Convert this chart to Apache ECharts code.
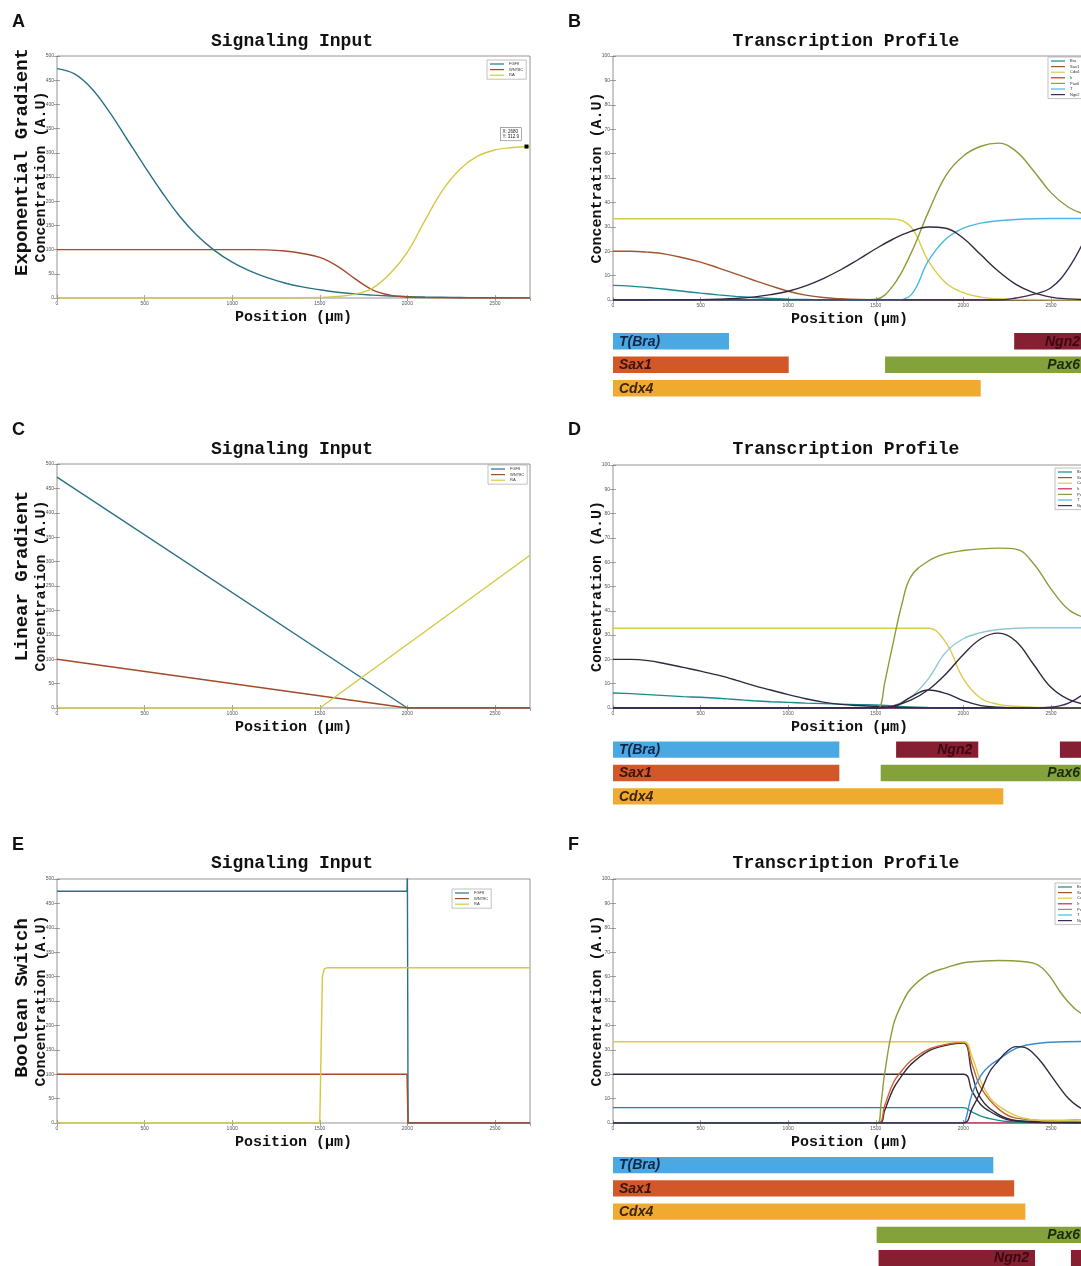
<!DOCTYPE html>
<html><head><meta charset="utf-8">
<script src="https://cdn.jsdelivr.net/npm/echarts@6/dist/echarts.min.js"></script>
<style>html,body{margin:0;padding:0;background:#fff}#c{width:1081px;height:1266px}</style>
</head><body><div id="c"></div>
<script>
// ---------------- DATA ----------------
const X100 = [0,100,200,300,400,500,600,700,800,900,1000,1100,1200,1300,1400,1500,1600,1700,1800,1900,2000,2100,2200,2300,2400,2500,2600,2700];
const XEND = [0,2700];
const ZERO2 = [0,0];
const signalNames = ['FGF8','WNT8C','RA'];
const geneLegend = ['Bra','Sax1','Cdx4','Ir','Pax6','T','Ngn2'];

// Panel A : exponential gradient
const A_FGF8 = [474,463,432,384,328,272,218,169,129,98,74,56,42,31,23,17,12,8.5,6,4,2.8,2,1.4,1,0.7,0.5,0.3,0.2];
const A_WNT8C = [100,100,100,100,100,100,100,100,100,100,100,100,99.5,97,92,84,66,40,17,6,2,0.8,0.3,0,0,0,0,0];
const A_RA = [0,0,0,0,0,0,0,0,0,0,0,0,0,0,0.5,1,3,8,20,50,95,160,222,266,293,306,311,313];
const A_tip = [2680, 312.9];

// Panel B : transcription profile (exponential)
const B_Bra = [6,5.7,5.1,4.4,3.6,2.8,2.1,1.5,1.0,0.6,0.35,0.2,0.1,0.05,0,0,0,0,0,0,0,0,0,0,0,0,0,0];
const B_Sax1 = [20,20,19.6,18.8,17.3,15.5,13.2,10.7,8.2,5.8,3.6,2.0,1.0,0.5,0.2,0.1,0,0,0,0,0,0,0,0,0,0,0,0];
const B_Cdx4 = [33.3,33.3,33.3,33.3,33.3,33.3,33.3,33.3,33.3,33.3,33.3,33.3,33.3,33.3,33.3,33.3,33.2,30,16,7,3,1.2,0.5,0.3,0.2,0.1,0.1,0.1];
const B_Pax6 = [0,0,0,0,0,0,0,0,0,0,0,0,0,0,0,0.3,6,19,36,51,59,63,64.3,61,53,44,38,35];
const B_T = [0,0,0,0,0,0,0,0,0,0,0,0,0,0,0,0,0,2,16,25,29.5,31.5,32.5,33,33.3,33.4,33.4,33.4];
const B_Irx = [0,0,0.02,0.05,0.1,0.15,0.3,0.6,1.2,2.2,3.6,5.8,8.8,12.4,16.6,21,25,28.1,29.9,29.4,25.3,18.5,11.8,6.4,3.0,1.2,0.45,0.12];
const B_Ngn2 = [0,0,0,0,0,0,0,0,0,0,0,0,0,0,0,0,0,0,0,0,0,0,0,0.8,2.3,5,13,26];

// Panel C : linear gradient
const C_FGF8_x = [0,2000,2700], C_FGF8 = [473,0,0];
const C_WNT8C_x = [0,2000,2700], C_WNT8C = [100,0,0];
const C_RA_x = [0,1500,2700], C_RA = [0,0,313];

// Panel D : transcription profile (linear)
const D_Bra = [6.2,5.9,5.5,5.1,4.7,4.4,4.0,3.5,3.0,2.6,2.3,2.0,1.8,1.6,1.4,1.3,0.8,0.4,0.2,0.1,0,0,0,0,0,0,0,0];
const D_Sax1 = [20,20,19.5,18.2,16.7,15.2,13.5,11.5,9.3,7.4,5.5,3.8,2.4,1.5,1.0,0.7,0.3,0.1,0,0,0,0,0,0,0,0,0,0];
const D_Cdx4 = [32.8,32.8,32.8,32.8,32.8,32.8,32.8,32.8,32.8,32.8,32.8,32.8,32.8,32.8,32.8,32.8,32.8,32.8,32.8,27,12,4,1.5,0.7,0.3,0.2,0.1,0.1];
const D_Pax6_x = [0,1500,1525,1550,1600,1650,1700,1800,1900,2000,2100,2200,2300,2400,2500,2600,2700];
const D_Pax6 = [0,0,0.5,10,27,43,54,60.5,63.5,64.8,65.5,65.8,65.4,59.5,49,40.5,37];
const D_T = [0,0,0,0,0,0,0,0,0,0,0,0,0,0,0,0,1,4.5,12,23,28.5,31,32.3,32.8,33,33,33,33];
const D_Irx = [0,0,0,0,0,0,0,0,0,0,0,0,0,0,0,0,0.8,3.2,7.5,14,22,28.5,30.8,27.5,18,8.5,3.5,1.5];
const D_Bump = [0,0,0,0,0,0,0,0,0,0,0,0,0,0,0,0,0.5,4.5,7.4,6,3,1,0.3,0,0,0,0,0];
const D_Ngn2 = [0,0,0,0,0,0,0,0,0,0,0,0,0,0,0,0,0,0,0,0,0,0,0,0,0,0.3,2,6.5];

// Panel E : boolean switch
const E_FGF8_x = [0,1998,2000,2004,2700], E_FGF8 = [475,475,520,0,0];
const E_WNT8C_x = [0,1998,2004,2700], E_WNT8C = [100,100,0,0];
const E_RA_x = [0,1500,1515,1525,1540,2700], E_RA = [0,0,300,316,318,318];

// Panel F : transcription profile (boolean)
const F_Cdx4_x = [0,2000,2050,2100,2150,2200,2300,2400,2500,2600,2700];
const F_Cdx4 = [33.3,33.3,27,17,10.5,7,3,1.3,0.8,1,1.5];
const F_Sax1_x = [0,1510,1550,1600,1650,1700,1800,1900,2000,2050,2100,2200,2300,2500,2700];
const F_Sax1 = [0,0,7,16.5,21.5,25.5,30.2,32.2,33.1,24,14.5,5.8,2,1,1.5];
const F_Ir2_x = [0,1520,1550,1600,1650,1700,1800,1900,2000,2050,2100,2200,2300,2500,2700];
const F_Ir2 = [0,0,5,14,19.5,24,29.5,31.8,32.8,20,10,3.5,1,0.5,0.3];
const F_Dk_x = [0,2000,2050,2100,2150,2200,2250,2300,2400,2700];
const F_Dk = [20,20,13,7.5,4.8,2.8,1.4,0.8,0.3,0];
const F_Bra_x = [0,2000,2050,2100,2150,2200,2250,2300,2400,2700];
const F_Bra = [6.3,6.3,4.5,2.8,1.8,1.1,0.6,0.4,0.2,0];
const F_T_x = [0,2000,2010,2050,2100,2150,2200,2300,2400,2500,2700];
const F_T = [0,0,0.5,12,19.5,23.5,26,30.6,32.4,33.1,33.4];
const F_Ngn2_x = [0,2000,2050,2100,2150,2200,2250,2300,2350,2400,2450,2500,2550,2600,2650,2700];
const F_Ngn2 = [0,0,6,13,21,25.5,29.4,31.3,31,28.5,24.5,19.5,14.5,10,7,5];
const F_Pax6_x = [0,1510,1530,1550,1600,1650,1700,1800,1900,2000,2100,2200,2300,2400,2450,2500,2550,2600,2650,2700];
const F_Pax6 = [0,0,8,20,40,49,55,61,63.6,65.7,66.3,66.6,66.4,65.5,63.5,59.5,54,49.5,46,44];

// Expression bars: label, start, end, row
const B_barLabel = ['T(Bra)','Sax1','Cdx4','Ngn2','Pax6'];
const B_barGene  = ['T(Bra)','Sax1','Cdx4','Ngn2','Pax6'];
const B_barStart = [0,0,0,2290,1553];
const B_barEnd   = [662,1003,2099,2700,2700];
const B_barRow   = [0,1,2,0,1];

const D_barLabel = ['T(Bra)','Sax1','Cdx4','Ngn2','','Pax6'];
const D_barGene  = ['T(Bra)','Sax1','Cdx4','Ngn2','Ngn2','Pax6'];
const D_barStart = [0,0,0,1616,2551,1528];
const D_barEnd   = [1292,1292,2228,2085,2700,2700];
const D_barRow   = [0,1,2,0,0,1];

const F_barLabel = ['T(Bra)','Sax1','Cdx4','Pax6','Ngn2',''];
const F_barGene  = ['T(Bra)','Sax1','Cdx4','Pax6','Ngn2','Ngn2'];
const F_barStart = [0,0,0,1505,1516,2614];
const F_barEnd   = [2171,2290,2354,2700,2409,2700];
const F_barRow   = [0,1,2,3,4,4];

// ---------------- STYLE / LAYOUT ----------------
const COL = {FGF8:'#2b7186', WNT8C:'#a24a2a', RA:'#d3c940', Bra:'#178a8c', Sax1:'#a0552c', Cdx4:'#d8cc48',
  Ir:'#c82848', Pax6:'#8c9c3c', T:'#4ab8e4', Ngn2:'#3a2a58', Irx:'#33283f', dark:'#2e2a3c', orange:'#d0602a'};
const BARCOL = {'T(Bra)':'#4aa9e2','Sax1':'#d2582a','Cdx4':'#f0aa30','Pax6':'#84a23c','Ngn2':'#861f32'};
const BARTXT = {'T(Bra)':'#14254a','Sax1':'#3a1208','Cdx4':'#3a2508','Pax6':'#1c2a0c','Ngn2':'#3a0810'};
const MONO = '"Liberation Mono","Courier New",monospace';
const SANS = '"Liberation Sans",Arial,sans-serif';

const plotGrids = [
  {left:57, top:56, width:473, height:242},
  {left:613, top:56, width:473, height:244},
  {left:57, top:464, width:473, height:244},
  {left:613, top:465, width:473, height:243},
  {left:57, top:879, width:473, height:244},
  {left:613, top:879, width:473, height:244}
];
const barGrids = [
  {left:613, top:329.5, width:473, height:70.5},
  {left:613, top:738, width:473, height:70},
  {left:613, top:1153.5, width:473, height:116.25}
];
const yMaxes = [500,100,500,100,500,100];
const yInts = [50,10,50,10,50,10];

const grid = [];
plotGrids.forEach(g => grid.push(Object.assign({show:true, borderColor:'#7a7a7a', borderWidth:0.8, backgroundColor:'#fff', containLabel:false, outerBoundsMode:'none'}, g)));
barGrids.forEach(g => grid.push(Object.assign({show:false, containLabel:false, outerBoundsMode:'none'}, g)));

const plain = v => String(v);
const xAxis = [], yAxis = [];
const tickStyle = {show:true, inside:true, length:3, lineStyle:{color:'#666', width:0.6}};
plotGrids.forEach((g, i) => {
  xAxis.push({type:'value', gridIndex:i, min:0, max:2700, interval:500, position:'bottom',
    axisLine:{show:false}, axisTick:tickStyle, splitLine:{show:false},
    axisLabel:{fontSize:5, color:'#555', margin:3, showMaxLabel:false, fontFamily:SANS, formatter:plain},
    name:'Position (\u00b5m)', nameLocation:'middle', nameGap:12,
    nameTextStyle:{fontFamily:MONO, fontWeight:'bold', fontSize:15, color:'#111'}});
  xAxis.push({type:'value', gridIndex:i, min:0, max:2700, interval:500, position:'top',
    axisLine:{show:false}, axisTick:tickStyle, splitLine:{show:false}, axisLabel:{show:false}});
  yAxis.push({type:'value', gridIndex:i, min:0, max:yMaxes[i], interval:yInts[i], position:'left',
    axisLine:{show:false}, axisTick:tickStyle, splitLine:{show:false},
    axisLabel:{fontSize:5, color:'#555', margin:3, fontFamily:SANS, formatter:plain},
    name:'Concentration (A.U)', nameLocation:'middle', nameGap:8, nameMoveOverlap:false,
    nameTextStyle:{fontFamily:MONO, fontWeight:'bold', fontSize:15, color:'#111'}});
  yAxis.push({type:'value', gridIndex:i, min:0, max:yMaxes[i], interval:yInts[i], position:'right',
    axisLine:{show:false}, axisTick:tickStyle, splitLine:{show:false}, axisLabel:{show:false}});
});
const barRowsCount = [3,3,5];
barGrids.forEach((g, k) => {
  xAxis.push({type:'value', gridIndex:6+k, min:0, max:2700, show:false});
  yAxis.push({type:'value', gridIndex:6+k, min:-0.5, max:barRowsCount[k]-0.5, inverse:true, show:false});
});

function pts(xs, ys){ return xs.map((x, i) => [x, ys[i]]); }
function line(p, name, xs, ys, color, opt){
  return Object.assign({type:'line', name:name, xAxisIndex:2*p, yAxisIndex:2*p, data:pts(xs, ys),
    symbol:'none', showSymbol:false, smooth:0.4, clip:true, silent:true,
    lineStyle:{width:1.4, color:color}, itemStyle:{color:color}}, opt || {});
}
const straight = {smooth:false};

function barSeries(k, labels, genes, starts, ends, rows){
  return {type:'custom', xAxisIndex:12+k, yAxisIndex:12+k, silent:true, clip:false,
    data: starts.map((s, i) => [s, ends[i], rows[i]]),
    renderItem: function(params, api){
      const i = params.dataIndex;
      const a = api.coord([api.value(0), api.value(2)]);
      const b = api.coord([api.value(1), api.value(2)]);
      const h = api.size([0, 1])[1] * 0.7;
      const gene = genes[i];
      const children = [{type:'rect', shape:{x:a[0], y:a[1]-h/2, width:b[0]-a[0], height:h},
        style:{fill:BARCOL[gene]}}];
      if (labels[i]) {
        const leftAlign = (gene === 'T(Bra)' || gene === 'Sax1' || gene === 'Cdx4');
        children.push({type:'text', x: leftAlign ? a[0]+6 : b[0]-6, y:a[1]+0.5,
          style:{text:labels[i], font:'italic bold 14px ' + SANS, fill:BARTXT[gene],
            align: leftAlign ? 'left' : 'right', verticalAlign:'middle'}});
      }
      return {type:'group', children:children};
    }};
}

const series = [
  // A
  line(0, 'FGF8', X100, A_FGF8, COL.FGF8),
  line(0, 'WNT8C', X100, A_WNT8C, COL.WNT8C),
  line(0, 'RA', X100, A_RA, COL.RA, {markPoint:{symbol:'rect', symbolSize:4, silent:true,
    itemStyle:{color:'#000'}, data:[{coord:A_tip}],
    label:{show:true, formatter:'X: ' + A_tip[0] + '\nY: ' + A_tip[1], position:[-24,-17],
      fontSize:4.5, lineHeight:5.5, color:'#222', backgroundColor:'#fff', borderColor:'#555', borderWidth:0.5, padding:[1,2]}}}),
  // B
  line(1, 'Ir', XEND, ZERO2, COL.Ir),
  line(1, 'Bra', X100, B_Bra, COL.Bra),
  line(1, 'Sax1', X100, B_Sax1, COL.Sax1),
  line(1, 'Cdx4', X100, B_Cdx4, COL.Cdx4),
  line(1, 'Pax6', X100, B_Pax6, COL.Pax6),
  line(1, 'T', X100, B_T, COL.T),
  line(1, 'Irx', X100, B_Irx, COL.Irx),
  line(1, 'Ngn2', X100, B_Ngn2, COL.Ngn2),
  // C
  line(2, 'FGF8', C_FGF8_x, C_FGF8, COL.FGF8, straight),
  line(2, 'WNT8C', C_WNT8C_x, C_WNT8C, COL.WNT8C, straight),
  line(2, 'RA', C_RA_x, C_RA, COL.RA, straight),
  // D
  line(3, 'Ir', XEND, ZERO2, COL.Ir),
  line(3, 'Bra', X100, D_Bra, COL.Bra),
  line(3, 'Sax1', X100, D_Sax1, COL.dark),
  line(3, 'Cdx4', X100, D_Cdx4, COL.Cdx4),
  line(3, 'Pax6', D_Pax6_x, D_Pax6, COL.Pax6),
  line(3, 'T', X100, D_T, '#8fc6d8'),
  line(3, 'Irx', X100, D_Irx, COL.Irx),
  line(3, 'Bump', X100, D_Bump, COL.dark),
  line(3, 'Ngn2', X100, D_Ngn2, COL.Ngn2),
  // E
  line(4, 'FGF8', E_FGF8_x, E_FGF8, COL.FGF8, straight),
  line(4, 'WNT8C', E_WNT8C_x, E_WNT8C, COL.WNT8C, straight),
  line(4, 'RA', E_RA_x, E_RA, COL.RA, straight),
  // F
  line(5, 'Ir', XEND, ZERO2, COL.Ir),
  line(5, 'Bra', F_Bra_x, F_Bra, COL.Bra),
  line(5, 'Sax1dk', F_Dk_x, F_Dk, COL.dark),
  line(5, 'Ir2', F_Ir2_x, F_Ir2, COL.dark),
  line(5, 'Sax1', F_Sax1_x, F_Sax1, COL.orange),
  line(5, 'Cdx4', F_Cdx4_x, F_Cdx4, COL.Cdx4),
  line(5, 'Pax6', F_Pax6_x, F_Pax6, COL.Pax6),
  line(5, 'T', F_T_x, F_T, '#3a8ad0'),
  line(5, 'Ngn2', F_Ngn2_x, F_Ngn2, COL.Irx),
  // bars
  barSeries(0, B_barLabel, B_barGene, B_barStart, B_barEnd, B_barRow),
  barSeries(1, D_barLabel, D_barGene, D_barStart, D_barEnd, D_barRow),
  barSeries(2, F_barLabel, F_barGene, F_barStart, F_barEnd, F_barRow)
];

function legendAt(left, top, names){
  return {left:left, top:top, orient:'vertical', data:names, icon:'rect', itemWidth:14, itemHeight:1.2,
    itemGap:1.6, padding:[2,3,2,3], selectedMode:false, borderColor:'#999', borderWidth:0.6, backgroundColor:'#fff',
    textStyle:{fontSize:4, color:'#333', fontFamily:SANS}};
}

const titleStyle = {fontFamily:MONO, fontWeight:'bold', fontSize:18, color:'#111'};
const titles = [
  {text:'Signaling Input', left:292, top:32}, {text:'Transcription Profile', left:846, top:32},
  {text:'Signaling Input', left:292, top:440}, {text:'Transcription Profile', left:846, top:440},
  {text:'Signaling Input', left:292, top:854}, {text:'Transcription Profile', left:846, top:854}
].map(t => Object.assign({textAlign:'center', textStyle:titleStyle, padding:0}, t));

function letter(t, x, y){ return {type:'text', x:x, y:y, style:{text:t, font:'bold 18px ' + SANS, fill:'#111'}}; }
function rowLabel(t, cy){ return {type:'text', x:22, y:cy, rotation:Math.PI/2,
  style:{text:t, font:'bold 19px ' + MONO, fill:'#111', align:'center', verticalAlign:'middle'}}; }

const option = {
  animation:false,
  backgroundColor:'#fff',
  title: titles,
  grid: grid,
  xAxis: xAxis,
  yAxis: yAxis,
  legend: [
    legendAt(487, 60, signalNames), legendAt(1048, 57, geneLegend),
    legendAt(488, 465, signalNames), legendAt(1055, 468, geneLegend),
    legendAt(452, 889, signalNames), legendAt(1055, 883, geneLegend)
  ],
  graphic: [
    letter('A', 12, 13), letter('B', 568, 13), letter('C', 12, 421),
    letter('D', 568, 421), letter('E', 12, 836), letter('F', 568, 836),
    rowLabel('Exponential Gradient', 162), rowLabel('Linear Gradient', 576), rowLabel('Boolean Switch', 998)
  ],
  series: series
};

const chart = echarts.init(document.getElementById('c'), null, {renderer:'canvas'});
chart.setOption(option);
</script></body></html>
